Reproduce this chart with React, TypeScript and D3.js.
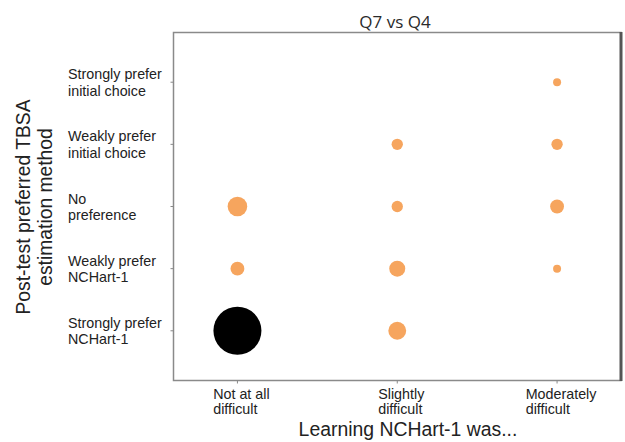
import React from "react";
import * as d3 from "d3";

const title = "Q7 vs Q4";
const xAxisTitle = "Learning NCHart-1 was...";
const yAxisTitle = ["Post-test preferred TBSA", "estimation method"];

const xCategories = ["Not at all\ndifficult", "Slightly\ndifficult", "Moderately\ndifficult"];
const yCategories = [
  "Strongly prefer\ninitial choice",
  "Weakly prefer\ninitial choice",
  "No\npreference",
  "Weakly prefer\nNCHart-1",
  "Strongly prefer\nNCHart-1",
];

// counts per x category, listed in yCategories order
const countsNotAtAll = [0, 0, 6, 3, 36];
const countsSlightly = [0, 2, 2, 4, 5];
const countsModerately = [1, 2, 3, 1, 0];
const seriesCounts = [countsNotAtAll, countsSlightly, countsModerately];

const W = 625;
const H = 442;
const plot = { left: 173.5, top: 32.5, right: 621, bottom: 380.5 };

const axisFont = "'Liberation Sans', Arial, sans-serif";
const tickFontSize = 14.3;

function measure(text: string, size: number): number {
  if (typeof document === "undefined") return text.length * size * 0.5;
  const c = document.createElement("canvas");
  const ctx = c.getContext("2d");
  if (!ctx) return text.length * size * 0.5;
  ctx.font = `${size}px 'Liberation Sans', Arial, sans-serif`;
  return ctx.measureText(text).width;
}

export default function App() {
  const x = d3.scalePoint<string>().domain(xCategories).range([plot.left, plot.right]).padding(0.4);
  const y = d3.scalePoint<string>().domain(yCategories).range([plot.top, plot.bottom]).padding(0.8);
  const maxCount = d3.max(seriesCounts.flat()) as number;
  const r = d3.scaleSqrt().domain([0, maxCount]).range([0, 24]);

  const cells: { xc: string; yc: string; v: number }[] = [];
  seriesCounts.forEach((col, i) =>
    col.forEach((v, j) => {
      if (v > 0) cells.push({ xc: xCategories[i], yc: yCategories[j], v });
    })
  );

  return (
    <svg
      width={W}
      height={H}
      style={{ position: "absolute", left: 0, top: 0, background: "#fff" }}
    >
      <rect x={0} y={0} width={W} height={H} fill="#fff" />
      <text
        x={395}
        y={28}
        textAnchor="middle"
        fontFamily="'Open Sans', sans-serif"
        fontSize={17}
        fontWeight={500}
        fill="#2a2a2a"
      >
        {title}
      </text>

      {/* plot frame */}
      <rect
        x={plot.left}
        y={plot.top}
        width={plot.right - plot.left}
        height={plot.bottom - plot.top}
        fill="none"
        stroke="#8a8a8a"
        strokeWidth={1.5}
      />
      <line x1={plot.right} x2={plot.right} y1={plot.top - 0.5} y2={plot.bottom + 0.5} stroke="#555" strokeWidth={3} />

      {/* y ticks */}
      {yCategories.map((c) => {
        const yy = y(c) as number;
        const lines = c.split("\n");
        return (
          <g key={c}>
            <line x1={plot.left - 3} x2={plot.left} y1={yy} y2={yy} stroke="#888" strokeWidth={1} />
            {lines.map((l, k) => (
              <text
                key={k}
                x={68}
                y={yy - 3 + k * 16.5}
                fontFamily={axisFont}
                fontSize={tickFontSize}
                fill="#222"
              >
                {l}
              </text>
            ))}
          </g>
        );
      })}

      {/* x ticks */}
      {xCategories.map((c) => {
        const xx = x(c) as number;
        const lines = c.split("\n");
        const w = d3.max(lines, (l) => measure(l, tickFontSize)) as number;
        const start = xx + 4 - w / 2;
        return (
          <g key={c}>
            <line x1={xx} x2={xx} y1={plot.bottom} y2={plot.bottom + 3} stroke="#888" strokeWidth={1} />
            {lines.map((l, k) => (
              <text
                key={k}
                x={start}
                y={398.5 + k * 15.5}
                fontFamily={axisFont}
                fontSize={tickFontSize}
                fill="#222"
              >
                {l}
              </text>
            ))}
          </g>
        );
      })}

      {/* bubbles */}
      {cells.map((d, i) => (
        <circle
          key={i}
          cx={x(d.xc) as number}
          cy={y(d.yc) as number}
          r={r(d.v)}
          fill={d.v === maxCount ? "#000" : "#f6a55e"}
        />
      ))}

      <text x={408} y={435.5} textAnchor="middle" fontFamily={axisFont} fontSize={19.4} fill="#222">
        {xAxisTitle}
      </text>

      <g transform="translate(0,207) rotate(-90)">
        {yAxisTitle.map((l, k) => (
          <text
            key={k}
            x={0}
            y={30 + k * 22}
            textAnchor="middle"
            fontFamily={axisFont}
            fontSize={19.3}
            fill="#222"
          >
            {l}
          </text>
        ))}
      </g>
    </svg>
  );
}
